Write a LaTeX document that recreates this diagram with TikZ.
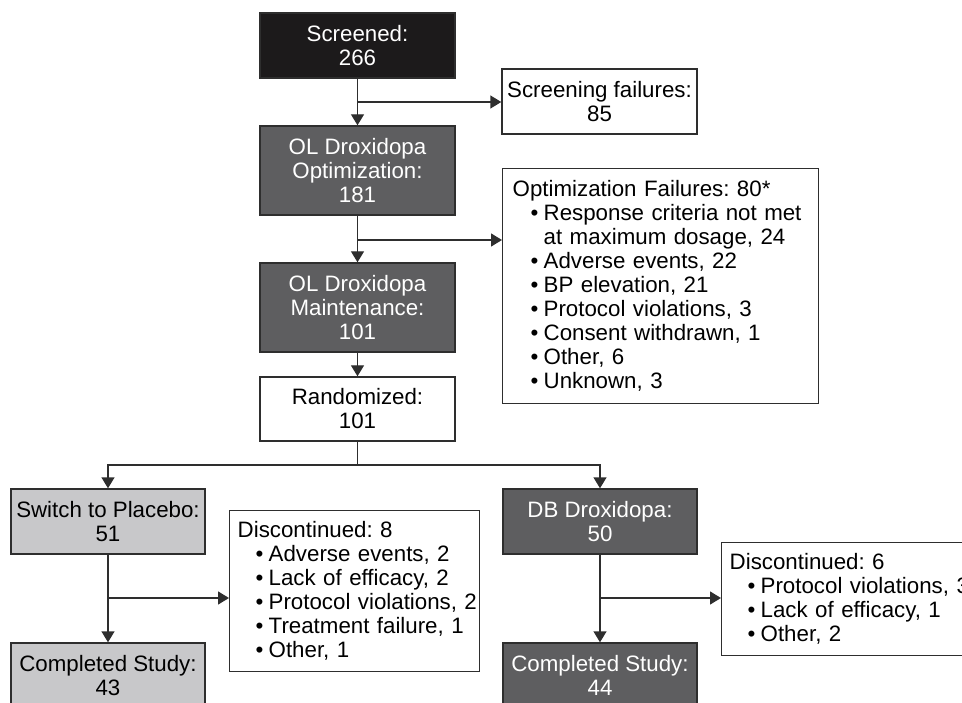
\documentclass[tikz,border=0pt]{standalone}
\usepackage{fontspec}
\setmainfont{Liberation Sans}
\usetikzlibrary{arrows.meta}
\definecolor{blk}{HTML}{1C1A1B}
\definecolor{dgray}{HTML}{5E5E60}
\definecolor{lgray}{HTML}{C8C8CA}
\definecolor{edge}{HTML}{2E2E2E}
\newcommand\fcitem[1]{\hspace*{18pt}\makebox[13pt][l]{\textbullet}\mbox{#1}}
\newcommand\fccont[1]{\hspace*{31pt}\mbox{#1}}
\frenchspacing
\begin{document}
\begin{tikzpicture}[x=1pt,y=-1pt,
  font=\fontsize{22.3}{24}\selectfont\frenchspacing,
  box/.style={draw=edge, line width=1.4pt, inner sep=0pt, align=center, text=black},
  blackbox/.style={box, fill=blk, text=white, minimum width=195pt, minimum height=65pt},
  darkbox/.style={box, fill=dgray, text=white, minimum width=195pt},
  lightbox/.style={box, fill=lgray, text=black, minimum width=194pt, minimum height=65pt},
  whitebox/.style={box, fill=white, minimum width=195pt, minimum height=65pt},
  listbox/.style={box, fill=white, anchor=north west, align=left},
  conn/.style={draw=edge, line width=1.4pt},
  arr/.style={conn, -{Triangle[length=11pt,width=13pt]}}]
\useasboundingbox (0,0) rectangle (962,703);

\node[blackbox] (scr) at (357.5,45.5) {Screened:\\266};
\node[whitebox] (sf) at (599.5,101.5) {Screening failures:\\85};
\node[darkbox, minimum height=89pt] (opt) at (357.5,170.5) {OL Droxidopa\\Optimization:\\181};
\node[listbox, minimum width=316pt, minimum height=235pt, text width=296pt, inner xsep=10pt] (of) at (502,168)
  {Optimization Failures: 80*\\
   \fcitem{Response criteria not met}\\
   \fccont{at maximum dosage, 24}\\
   \fcitem{Adverse events, 22}\\
   \fcitem{BP elevation, 21}\\
   \fcitem{Protocol violations, 3}\\
   \fcitem{Consent withdrawn, 1}\\
   \fcitem{Other, 6}\\
   \fcitem{Unknown, 3}};
\node[darkbox, minimum height=89pt] (mnt) at (357.5,307.5) {OL Droxidopa\\Maintenance:\\101};
\node[whitebox, minimum height=64pt] (rnd) at (357.5,409) {Randomized:\\101};

\node[lightbox] (pl) at (108,521.5) {Switch to Placebo:\\51};
\node[darkbox, minimum height=65pt, minimum width=194pt] (db) at (600,521.5) {DB Droxidopa:\\50};
\node[lightbox] (cp) at (108,675.5) {Completed Study:\\43};
\node[darkbox, minimum height=65pt, minimum width=194pt] (cd) at (600,675.5) {Completed Study:\\44};

\node[listbox, minimum width=250pt, minimum height=161pt, text width=234pt, inner xsep=8pt] (d8) at (229,510)
  {Discontinued: 8\\
   \fcitem{Adverse events, 2}\\
   \fcitem{Lack of efficacy, 2}\\
   \fcitem{Protocol violations, 2}\\
   \fcitem{Treatment failure, 1}\\
   \fcitem{Other, 1}};
\node[listbox, minimum width=276pt, minimum height=113pt, text width=260pt, inner xsep=8pt] (d6) at (721,542)
  {Discontinued: 6\\
   \fcitem{Protocol violations, 3}\\
   \fcitem{Lack of efficacy, 1}\\
   \fcitem{Other, 2}};

\coordinate (b1) at (357.5,102);
\coordinate (b2) at (357.5,240);
\coordinate (b3) at (357.5,465);
\coordinate (b4) at (108,598);
\coordinate (b5) at (600,598);

\draw[arr] (scr.south) -- (opt.north);
\draw[arr] (b1) -- (b1 -| sf.west);
\draw[arr] (opt.south) -- (mnt.north);
\draw[arr] (b2) -- (b2 -| of.west);
\draw[arr] (mnt.south) -- (rnd.north);
\draw[conn] (rnd.south) -- (b3);
\draw[arr] (b3) -| (pl.north);
\draw[arr] (b3) -| (db.north);
\draw[arr] (pl.south) -- (cp.north);
\draw[arr] (b4) -- (b4 -| d8.west);
\draw[arr] (db.south) -- (cd.north);
\draw[arr] (b5) -- (b5 -| d6.west);
\end{tikzpicture}
\end{document}
